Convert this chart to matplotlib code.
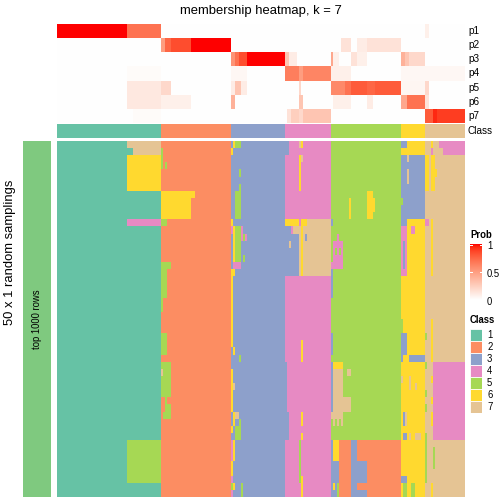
import numpy as np
import matplotlib
matplotlib.use("Agg")
import matplotlib.pyplot as plt
from matplotlib.colors import ListedColormap, BoundaryNorm
from matplotlib.patches import Rectangle

plt.rcParams['font.family'] = ['Liberation Sans', 'DejaVu Sans']

title = "membership heatmap, k = 7"
class_names = ["1", "2", "3", "4", "5", "6", "7"]
class_colors = ["#66C2A5", "#FC8D62", "#8DA0CB", "#E78AC3", "#A6D854", "#FFD92F", "#E5C494"]
class_sizes = [52, 35, 27, 23, 35, 12, 20]
n_samplings = 50
prob_labels = ["p1", "p2", "p3", "p4", "p5", "p6", "p7"]

# membership probability, (first col, end col, prob); cells not listed are 0
p1 = [(0, 35, 1.0), (35, 52, 0.7), (184, 186, 0.08)]
p2 = [(52, 54, 0.5), (54, 57, 0.75), (57, 67, 0.85), (67, 87, 1.0),
      (142, 147, 0.15), (150, 155, 0.1), (155, 172, 0.15)]
p3 = [(87, 89, 0.55), (89, 91, 0.7), (91, 95, 0.85), (95, 114, 1.0), (114, 116, 0.3),
      (116, 120, 0.1), (137, 138, 0.45), (138, 141, 0.08), (147, 150, 0.15),
      (150, 155, 0.08), (172, 174, 0.4), (174, 176, 0.3), (176, 184, 0.2)]
p4 = [(35, 52, 0.02), (87, 95, 0.04), (114, 121, 0.65), (121, 123, 0.5),
      (123, 137, 0.62), (137, 147, 0.08), (172, 204, 0.04)]
p5 = [(35, 52, 0.12), (52, 57, 0.2), (87, 95, 0.1), (89, 92, 0.3), (121, 122, 0.2),
      (137, 144, 0.6), (144, 147, 0.7), (147, 155, 0.8), (155, 159, 0.75),
      (159, 172, 0.8), (172, 184, 0.05), (184, 186, 0.2)]
p6 = [(35, 52, 0.12), (52, 67, 0.08), (87, 89, 0.4), (121, 123, 0.3), (138, 147, 0.08),
      (155, 158, 0.1), (172, 175, 0.45), (175, 184, 0.7), (184, 186, 0.15)]
p7 = [(38, 52, 0.02), (115, 117, 0.15), (117, 121, 0.25), (121, 123, 0.2),
      (123, 137, 0.3), (184, 188, 0.8), (188, 190, 0.95), (190, 204, 0.9)]
prob_segments = [p1, p2, p3, p4, p5, p6, p7]

# samplings that disagree with the consensus class: (row0, row1, col0, col1, class)
deviations = [
    (0, 1, 35, 52, 7), (1, 2, 38, 52, 7), (2, 7, 35, 52, 6), (11, 12, 35, 52, 4),
    (42, 48, 35, 52, 5),
    (1, 4, 52, 53, 5), (3, 4, 54, 55, 5), (7, 8, 52, 69, 6), (8, 11, 52, 67, 6),
    (11, 12, 52, 55, 5), (17, 18, 52, 57, 5), (18, 22, 52, 55, 5), (22, 24, 52, 53, 5),
    (27, 30, 52, 55, 5), (31, 36, 52, 57, 5), (32, 33, 52, 53, 7), (36, 37, 54, 55, 5),
    (37, 38, 54, 57, 5), (38, 39, 53, 57, 5),
    (0, 1, 88, 89, 6), (0, 1, 89, 92, 5), (1, 2, 87, 88, 6), (4, 5, 91, 92, 5),
    (6, 7, 91, 92, 5), (7, 11, 89, 92, 5), (11, 12, 87, 88, 6),
    (12, 13, 87, 88, 4), (12, 13, 88, 89, 6), (12, 13, 89, 92, 5), (12, 13, 92, 93, 4),
    (13, 14, 88, 89, 6), (13, 14, 89, 92, 5), (13, 14, 92, 93, 4), (13, 14, 93, 94, 5),
    (13, 14, 94, 95, 4), (14, 17, 88, 89, 6), (14, 17, 89, 92, 5), (16, 17, 93, 94, 5),
    (17, 18, 88, 92, 4), (18, 19, 87, 89, 6), (19, 29, 87, 88, 6), (29, 30, 88, 89, 6),
    (30, 31, 91, 92, 5), (32, 38, 87, 88, 6), (34, 35, 88, 89, 7), (38, 39, 88, 89, 6),
    (38, 39, 89, 91, 7), (39, 40, 88, 89, 6), (39, 40, 91, 92, 5), (40, 41, 87, 88, 6),
    (40, 42, 89, 92, 5), (42, 45, 87, 88, 4), (42, 45, 88, 89, 6), (45, 47, 87, 88, 6),
    (47, 48, 87, 88, 4), (48, 49, 87, 88, 5), (48, 49, 88, 89, 6), (48, 50, 92, 93, 5),
    (49, 50, 87, 88, 4),
    (0, 2, 114, 116, 3), (0, 1, 121, 122, 7), (0, 1, 122, 123, 6), (2, 7, 121, 122, 6),
    (2, 3, 122, 123, 7), (11, 12, 114, 121, 6), (11, 12, 122, 125, 6), (11, 12, 125, 137, 7),
    (12, 19, 114, 121, 3), (12, 13, 118, 121, 7), (12, 13, 117, 118, 4), (12, 19, 121, 122, 7),
    (12, 19, 122, 123, 6), (12, 19, 123, 137, 7), (13, 14, 124, 125, 3), (14, 15, 116, 117, 7),
    (28, 31, 122, 123, 6), (31, 38, 114, 115, 3), (38, 42, 114, 116, 3), (38, 40, 122, 123, 6),
    (41, 42, 122, 123, 6), (42, 48, 121, 122, 5), (47, 50, 122, 123, 6),
    (11, 12, 137, 138, 3), (8, 11, 146, 147, 6), (7, 8, 155, 158, 6), (8, 10, 155, 159, 6),
    (10, 11, 155, 158, 6), (13, 14, 140, 141, 4), (14, 18, 138, 143, 4), (15, 16, 139, 140, 5),
    (15, 16, 141, 142, 5), (17, 18, 137, 143, 4), (18, 22, 137, 138, 3), (27, 30, 137, 138, 3),
    (31, 38, 137, 138, 3), (31, 32, 138, 143, 6), (32, 36, 138, 143, 7), (32, 33, 145, 147, 7),
    (36, 38, 138, 147, 7), (38, 39, 137, 143, 7), (39, 40, 138, 139, 7), (39, 40, 140, 141, 7),
    (39, 40, 142, 143, 7),
    (42, 45, 137, 138, 3), (42, 45, 138, 141, 6), (42, 50, 141, 147, 2), (42, 45, 147, 150, 3),
    (42, 50, 150, 172, 2), (45, 48, 137, 141, 3), (45, 48, 147, 155, 3), (48, 49, 137, 138, 3),
    (48, 49, 138, 139, 6), (48, 49, 139, 140, 3), (48, 49, 140, 141, 5), (48, 49, 147, 150, 3),
    (49, 50, 137, 140, 3), (49, 50, 140, 141, 5), (49, 50, 147, 155, 3),
    (0, 1, 172, 175, 3), (2, 11, 172, 184, 3), (2, 3, 175, 176, 7), (4, 6, 175, 176, 7),
    (8, 9, 172, 173, 5), (11, 12, 172, 175, 3), (12, 19, 172, 175, 4), (14, 18, 173, 174, 3),
    (12, 13, 177, 179, 4), (25, 27, 172, 173, 5), (27, 30, 172, 175, 3), (30, 31, 172, 173, 3),
    (30, 31, 176, 184, 3), (33, 34, 172, 173, 7), (33, 35, 176, 177, 7), (34, 35, 179, 180, 7),
    (38, 40, 173, 174, 3), (38, 40, 174, 175, 7), (41, 42, 173, 175, 3), (41, 42, 176, 177, 7),
    (41, 42, 179, 182, 7), (47, 48, 172, 175, 3), (48, 50, 173, 175, 5), (48, 50, 177, 179, 5),
    (0, 1, 187, 188, 6), (0, 1, 191, 204, 4), (1, 2, 187, 188, 4), (1, 2, 193, 204, 4),
    (2, 7, 184, 186, 6), (2, 7, 187, 189, 6), (4, 5, 187, 190, 6), (11, 12, 184, 186, 4),
    (11, 19, 187, 188, 6), (25, 31, 187, 188, 6), (27, 28, 184, 185, 5), (31, 42, 188, 204, 4),
    (31, 32, 184, 185, 5), (35, 36, 184, 185, 5), (37, 38, 184, 185, 5), (41, 42, 184, 185, 5),
    (33, 34, 187, 188, 6), (36, 37, 187, 188, 6), (38, 40, 187, 188, 6), (42, 48, 184, 185, 5),
    (43, 46, 188, 189, 5), (48, 50, 187, 188, 6),
]


def white_red_cmap(n=256):
    # linear interpolation white -> red in CIELAB, like colorRamp2
    def lab_to_rgb(L, a, b):
        fy = (L + 16) / 116
        fx = fy + a / 500
        fz = fy - b / 200
        def finv(t):
            return np.where(t > 6 / 29, t ** 3, 3 * (6 / 29) ** 2 * (t - 4 / 29))
        X, Y, Z = 0.95047 * finv(fx), finv(fy), 1.08883 * finv(fz)
        r = 3.2406 * X - 1.5372 * Y - 0.4986 * Z
        g = -0.9689 * X + 1.8758 * Y + 0.0415 * Z
        bb = 0.0557 * X - 0.2040 * Y + 1.0570 * Z
        rgb = np.clip(np.stack([r, g, bb], axis=-1), 0, 1)
        return np.where(rgb <= 0.0031308, 12.92 * rgb, 1.055 * rgb ** (1 / 2.4) - 0.055)
    t = np.linspace(0, 1, n)
    L = 100 + (53.24 - 100) * t
    a = 80.09 * t
    b = 67.20 * t
    return ListedColormap(np.clip(lab_to_rgb(L, a, b), 0, 1))


n_cols = sum(class_sizes)
consensus = np.repeat(np.arange(1, 8), class_sizes)

prob = np.zeros((7, n_cols))
for i, segs in enumerate(prob_segments):
    for c0, c1, v in segs:
        prob[i, c0:c1] = v

mat = np.tile(consensus, (n_samplings, 1))
for r0, r1, c0, c1, k in deviations:
    mat[r0:r1, c0:c1] = k

class_cmap = ListedColormap(class_colors)
class_norm = BoundaryNorm(np.arange(0.5, 8.5), 7)
prob_cmap = white_red_cmap()

W = H = 504
fig = plt.figure(figsize=(7, 7), dpi=72)


def box(x0, y0, x1, y1):
    return [x0 / W, 1 - y1 / H, (x1 - x0) / W, (y1 - y0) / H]


def bare(ax):
    ax.set_xticks([])
    ax.set_yticks([])
    for s in ax.spines.values():
        s.set_visible(False)


ax_p = fig.add_axes(box(57, 24, 465, 123))
ax_p.imshow(prob, cmap=prob_cmap, vmin=0, vmax=1, aspect='auto', interpolation='nearest')
bare(ax_p)
for i, lab in enumerate(prob_labels):
    fig.text(468 / W, 1 - (24 + 14.14 * (i + 0.5)) / H, lab, fontsize=10, va='center', ha='left')

ax_c = fig.add_axes(box(57, 124, 465, 138))
ax_c.imshow(consensus[None, :], cmap=class_cmap, norm=class_norm, aspect='auto',
            interpolation='nearest')
bare(ax_c)
fig.text(468 / W, 1 - 131 / H, "Class", fontsize=10, va='center', ha='left')

ax_m = fig.add_axes(box(57, 141, 465, 497))
ax_m.imshow(mat, cmap=class_cmap, norm=class_norm, aspect='auto', interpolation='nearest')
bare(ax_m)

ax_l = fig.add_axes(box(23, 141, 51, 497))
ax_l.set_facecolor("#7FC97F")
bare(ax_l)
ax_l.text(0.5, 0.5, "top 1000 rows", rotation=90, fontsize=9.5, ha='center', va='center',
          transform=ax_l.transAxes)
fig.text(10 / W, 1 - 252 / H, "50 x 1 random samplings", rotation=90, fontsize=13,
         ha='center', va='center')

fig.text(261 / W, 1 - 11 / H, title, fontsize=13, ha='center', va='center')

# Prob legend
fig.text(470 / W, 1 - 235 / H, "Prob", fontsize=9.5, fontweight='bold', ha='left', va='center')
ax_cb = fig.add_axes(box(470, 244, 482, 300))
ax_cb.imshow(np.linspace(1, 0, 100)[:, None], cmap=prob_cmap, vmin=0, vmax=1,
             aspect='auto', extent=[0, 1, 0, 1])
bare(ax_cb)
for v in [0.5, 1.0]:
    yy = min(v, 0.985)
    ax_cb.plot([0, 0.2], [yy, yy], color='white', lw=1)
    ax_cb.plot([0.8, 1], [yy, yy], color='white', lw=1)
for v, lab in [(1, "1"), (0.5, "0.5"), (0, "0")]:
    fig.text(487 / W, 1 - (302 - 56 * v) / H, lab, fontsize=9.5, ha='left', va='center')

# Class legend
fig.text(470 / W, 1 - 320 / H, "Class", fontsize=9.5, fontweight='bold', ha='left', va='center')
ax_cl = fig.add_axes(box(470, 329, 482, 413))
ax_cl.set_xlim(0, 1)
ax_cl.set_ylim(7, 0)
bare(ax_cl)
for i, (name, col) in enumerate(zip(class_names, class_colors)):
    ax_cl.add_patch(Rectangle((0, i), 1, 1, facecolor=col, edgecolor='white', lw=0.8))
    fig.text(487 / W, 1 - (329 + 12 * (i + 0.5)) / H, name, fontsize=9.5, ha='left', va='center')

fig.savefig("out.png", dpi=72)
